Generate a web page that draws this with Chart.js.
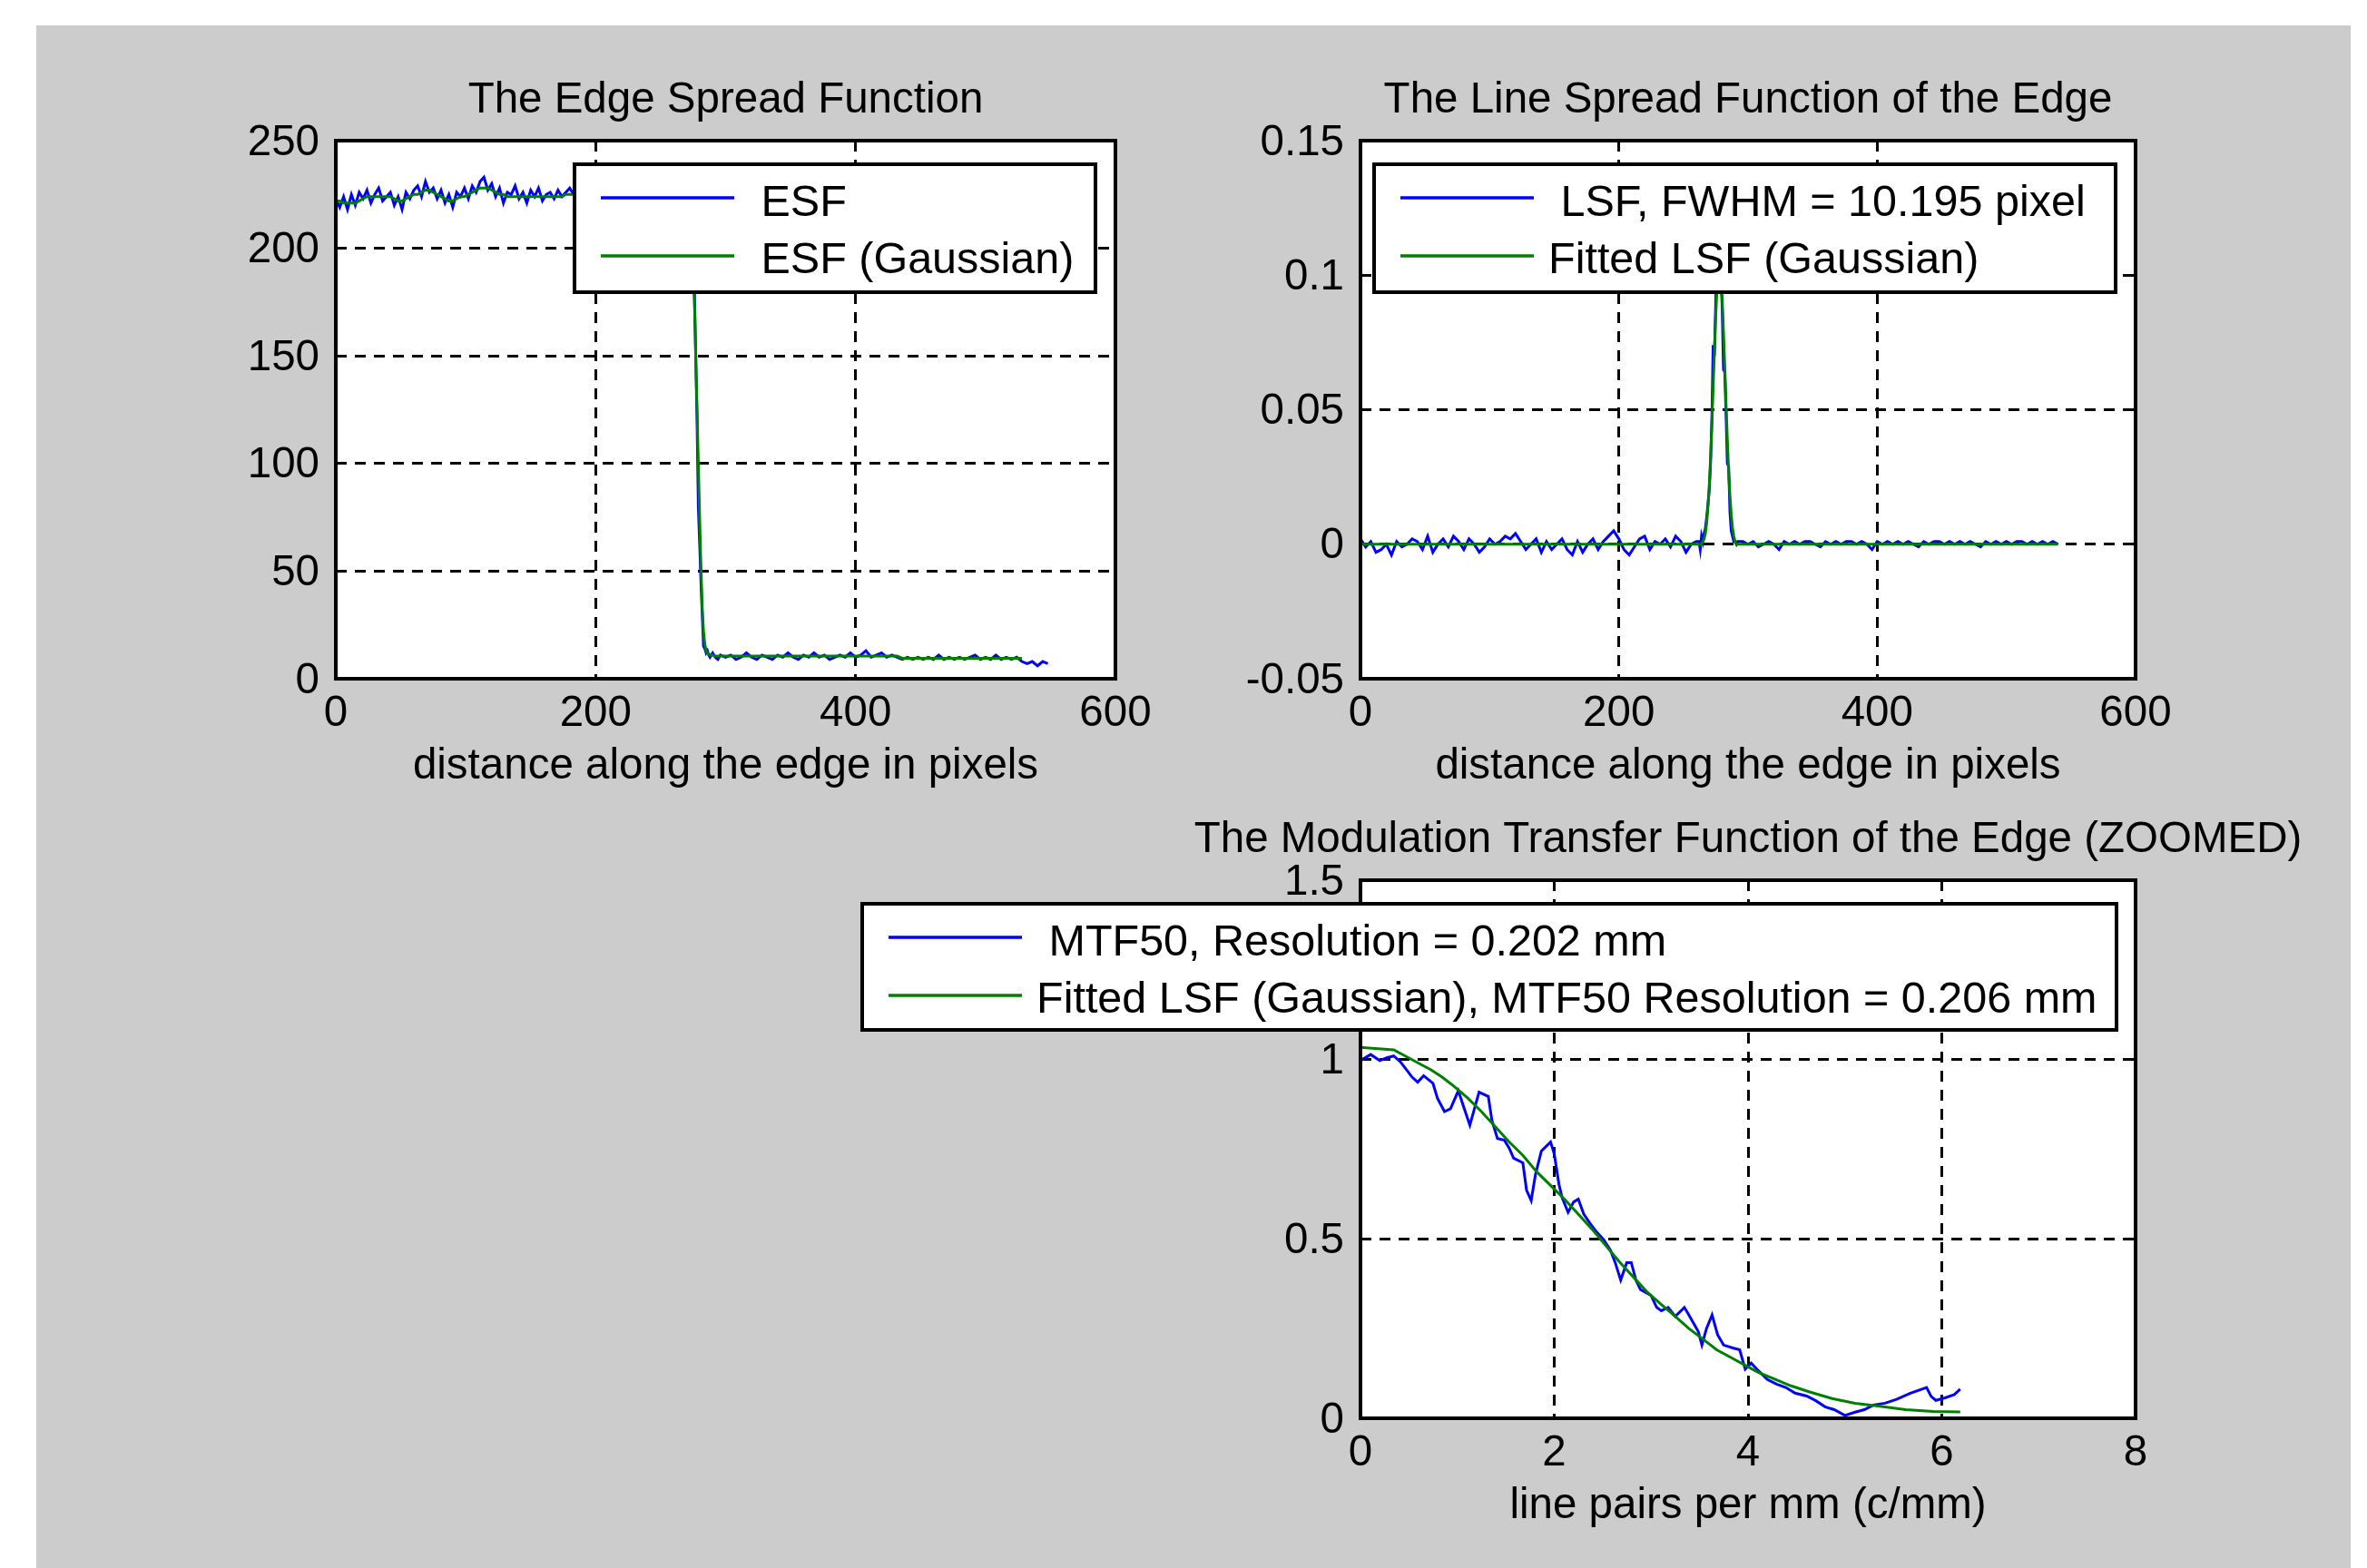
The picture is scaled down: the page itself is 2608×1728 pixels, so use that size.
<!DOCTYPE html>
<html><head><meta charset="utf-8">
<script src="https://cdn.jsdelivr.net/npm/chart.js@4.4.1/dist/chart.umd.min.js"></script>
<style>
html,body{margin:0;padding:0;background:#fff;}
body{width:2608px;height:1728px;position:relative;overflow:hidden;}
#fig{position:absolute;left:40px;top:28px;width:2550px;height:1700px;background:#cccccc;}
canvas{position:absolute;}
</style></head><body>
<div id="fig"></div>
<canvas id="c1" width="1100" height="860" style="left:220px;top:40px"></canvas>
<canvas id="c2" width="1200" height="860" style="left:1340px;top:40px"></canvas>
<canvas id="c3" width="1660" height="848" style="left:900px;top:880px"></canvas>
<script>
// ---------------- DATA ----------------
// Edge Spread Function (pixels)
const esfX = [
0,3,6,9,12,15,18,21,24,27,30,33,36,39,42,45,48,51,54,57,
60,63,66,69,72,75,78,81,84,87,90,93,96,99,102,105,108,111,114,117,
120,123,126,129,132,135,138,141,144,147,150,153,156,159,162,165,168,171,174,177,
180,183,
190,200,210,220,230,240,250,260,268,
272,273,274,275,276,277,278,279,280,281,282,283,284,285,286,287,288,290,292,294,296,
300,304,308,312,316,320,324,328,332,336,340,344,348,352,356,360,364,368,372,376,
380,384,388,392,396,400,404,408,412,416,420,424,428,432,436,440,444,448,452,456,
460,464,468,472,476,480,484,488,492,496,500,504,508,512,516,520,524,528,532,536,
540,544,548];
const esfMeasured = [
223,219,224,218,225,220,226,223,227,221,225,228,222,224,226,220,224,218,226,223,
227,229,224,231,226,228,223,227,221,225,219,226,224,228,223,229,226,231,233,227,
230,224,228,221,226,225,229,223,226,221,227,224,228,222,225,226,223,227,224,226,
228,225,
226,223,227,224,225,223,226,224,225,
225,223,212,190,180,150,120,80,63,45,30,15,14,12,13,11,10,12,10,9,11,
10,11,9,10,12,10,9,11,10,9,11,10,12,10,9,11,10,12,10,11,
9,10,11,10,12,10,11,13,10,11,12,10,11,10,9,10,9,10,9,10,
9,11,9,10,9,10,9,10,11,9,10,9,11,9,10,9,10,8,7,8,
6,8,7];
const esfGaussian = [
222,222,221,221,221,221,222,223,224,224,224,224,224,224,224,223,222,222,223,224,
225,225,226,227,227,226,225,224,223,222,222,223,224,224,225,226,227,228,228,228,
227,226,225,225,224,224,224,224,224,224,224,224,224,224,224,224,224,224,224,225,
225,225,
225,225,225,224,224,224,224,224,224,
224,222,215,195,175,150,125,100,75,52,33,22,16,13,12,11.5,11,11,10.5,10.5,10.5,
10.5,10.5,10.5,10.5,10.5,10.5,10.5,10.5,10.5,10.5,10.5,10.5,10.5,10.5,10.5,10.5,10.5,10.5,10.5,10.5,
10.5,10.5,10.5,10.5,10.5,10.5,10.5,10.5,10.5,10.5,10.5,10.5,10.5,10.5,9.5,9.5,9.5,9.5,9.5,9.5,
9.5,9.5,9.5,9.5,9.5,9.5,9.5,9.5,9.5,9.5,9.5,9.5,9.5,9.5,9.5,9.5,9.5,9.5,null,null,
null,null,null];

// Line Spread Function
const lsfX = [
0,4,8,12,16,20,24,28,32,36,40,44,48,52,56,60,64,68,72,76,
80,84,88,92,96,100,104,108,112,116,120,124,128,132,136,140,144,148,152,156,
160,164,168,172,176,180,184,188,192,196,200,204,208,212,216,220,224,228,232,236,
240,244,248,252,256,260,
262,263,264,265,266,267,268,269,270,271,272,273,274,275,276,277,278,279,280,281,
282,283,284,285,286,287,288,289,290,291,292,
296,300,304,308,312,316,320,324,328,332,336,340,344,348,352,356,360,364,368,372,
376,380,384,388,392,396,400,404,408,412,416,420,424,428,432,436,440,444,448,452,
456,460,464,468,472,476,480,484,488,492,496,500,504,508,512,516,520,524,528,532,
536,540];
const lsfMeasured = [
0.002,-0.001,0.001,-0.003,-0.002,0.000,-0.004,0.001,-0.001,0.000,
0.002,0.001,-0.002,0.003,-0.003,0.000,0.002,-0.001,0.003,0.001,
-0.002,0.002,0.000,-0.003,-0.001,0.002,0.000,0.001,0.003,0.002,
0.004,0.001,-0.002,0.000,0.002,-0.003,0.001,-0.002,0.000,0.002,
-0.002,-0.004,0.001,-0.003,0.000,0.002,-0.002,0.001,0.003,0.005,
0.002,-0.002,-0.004,-0.001,0.002,0.003,-0.002,0.001,0.000,0.002,
-0.001,0.003,0.001,-0.003,0.000,0.001,
0.001,-0.002,0.003,0.001,0.004,0.006,0.010,0.015,0.020,0.030,
0.046,0.074,0.070,0.090,0.110,0.120,0.115,0.100,0.088,0.065,
0.064,0.048,0.030,0.029,0.012,0.005,0.003,0.001,0.001,0.000,0.001,
0.001,0.000,0.001,-0.001,0.000,0.001,0.000,-0.002,0.001,0.000,
0.001,0.000,0.001,0.001,0.000,-0.001,0.001,0.000,0.001,0.000,
0.001,0.001,0.000,0.001,0.000,-0.002,0.001,0.000,0.001,0.000,
0.001,0.000,0.001,0.000,-0.001,0.001,0.000,0.001,0.001,0.000,
0.001,0.000,0.001,0.000,0.001,0.000,-0.001,0.001,0.000,0.001,
0.000,0.001,0.000,0.001,0.001,0.000,0.001,0.000,0.001,0.000,
0.001,0.000];
const lsfFitX = [0,130,262,263,264,265,266,267,268,269,270,271,272,273,274,275,276,277,278,279,
280,281,282,283,284,285,286,287,288,289,290,291,292,420,540];
const lsfFitted = [0,0,0,0,0,0.001,0.002,0.004,0.008,0.014,0.022,0.032,0.045,0.058,0.072,0.085,0.095,0.101,0.102,0.099,
0.091,0.079,0.066,0.052,0.039,0.027,0.018,0.011,0.006,0.003,0.001,0,0,0,0];

// Modulation Transfer Function (line pairs per mm)
const mtfX = [0,0.105,0.2,0.271,0.343,0.414,0.462,0.533,0.59,0.652,
0.748,0.795,0.867,0.929,1.01,1.071,1.129,1.176,1.224,1.319,
1.357,1.414,1.486,1.533,1.581,1.676,1.714,1.762,1.805,1.867,
1.962,2.0,2.048,2.081,2.143,2.2,2.248,2.305,2.367,2.438,
2.51,2.581,2.629,2.686,2.748,2.795,2.843,2.89,3.0,3.057,
3.105,3.176,3.248,3.343,3.39,3.486,3.524,3.571,3.629,3.686,
3.748,3.843,3.914,3.971,4.033,4.105,4.2,4.295,4.39,4.486,
4.605,4.7,4.795,4.89,5.0,5.105,5.2,5.295,5.414,5.533,
5.676,5.843,5.89,5.938,6.033,6.129,6.19];
const mtfMeasured = [0.997,1.014,0.997,1.005,1.01,0.993,0.976,0.951,0.937,0.955,
0.934,0.892,0.855,0.863,0.913,0.863,0.817,0.863,0.909,0.897,
0.83,0.78,0.775,0.754,0.725,0.712,0.636,0.607,0.678,0.745,
0.77,0.737,0.653,0.615,0.574,0.603,0.611,0.569,0.544,0.519,
0.498,0.468,0.434,0.385,0.434,0.434,0.385,0.359,0.342,0.309,
0.3,0.309,0.284,0.309,0.288,0.242,0.204,0.25,0.288,0.233,
0.204,0.196,0.191,0.137,0.154,0.133,0.108,0.095,0.086,0.07,
0.062,0.049,0.032,0.024,0.008,0.017,0.024,0.037,0.042,0.053,
0.07,0.086,0.061,0.05,0.057,0.066,0.081];
const mtfFitX = [0,0.152,0.343,0.462,0.605,0.724,0.843,0.962,1.105,1.248,
1.39,1.533,1.676,1.819,1.962,2.105,2.248,2.39,2.533,2.676,
2.819,2.962,3.105,3.248,3.39,3.533,3.676,3.819,3.962,4.105,
4.248,4.438,4.629,4.867,5.105,5.343,5.629,5.914,6.19];
const mtfFitted = [1.034,1.031,1.027,1.01,0.989,0.972,0.951,0.926,0.893,0.855,
0.813,0.771,0.733,0.687,0.649,0.611,0.569,0.527,0.481,0.435,
0.393,0.351,0.317,0.284,0.25,0.221,0.191,0.17,0.149,0.128,
0.112,0.091,0.074,0.055,0.042,0.034,0.024,0.019,0.018];

// Axis ticks and labels
const esfXTicks = [0,200,400,600];
const esfXTickLabels = ['0','200','400','600'];
const esfYTicks = [0,50,100,150,200,250];
const esfYTickLabels = ['0','50','100','150','200','250'];
const lsfXTicks = [0,200,400,600];
const lsfXTickLabels = ['0','200','400','600'];
const lsfYTicks = [-0.05,0,0.05,0.1,0.15];
const lsfYTickLabels = ['-0.05','0','0.05','0.1','0.15'];
const mtfXTicks = [0,2,4,6,8];
const mtfXTickLabels = ['0','2','4','6','8'];
const mtfYTicks = [0,0.5,1,1.5];
const mtfYTickLabels = ['0','0.5','1','1.5'];

// Texts
const titles = ['The Edge Spread Function','The Line Spread Function of the Edge','The Modulation Transfer Function of the Edge (ZOOMED)'];
const xTitles = ['distance along the edge in pixels','distance along the edge in pixels','line pairs per mm (c/mm)'];
const esfLabels = [' ESF',' ESF (Gaussian)'];
const lsfLabels = [' LSF, FWHM = 10.195 pixel','Fitted LSF (Gaussian)'];
const mtfLabels = [' MTF50, Resolution = 0.202 mm','Fitted LSF (Gaussian), MTF50 Resolution = 0.206 mm'];

// ---------------- RENDERING ----------------
const FONT = "'Liberation Sans', Arial, sans-serif";
const FS = 47.5;
const LFS = 48.5;
const BLUE = '#0000ff', GREEN = '#008000';

function pts(xs, ys){ return xs.map((x,i)=>({x:x, y:ys[i]})); }

const areaPlugin = {
  id: 'areaBox',
  beforeDraw(chart){
    const {ctx, chartArea:a} = chart;
    ctx.save(); ctx.fillStyle = '#fff';
    ctx.fillRect(a.left, a.top, a.right-a.left, a.bottom-a.top);
    ctx.restore();
  },
  afterDatasetsDraw(chart){
    const {ctx, chartArea:a} = chart;
    ctx.save();
    ctx.strokeStyle = '#000'; ctx.lineWidth = 4;
    ctx.strokeRect(a.left, a.top, a.right-a.left, a.bottom-a.top);
    ctx.restore();
  }
};
const axesTitlePlugin = {
  id: 'axesTitle',
  afterDraw(chart, args, o){
    const {ctx, chartArea:a} = chart;
    ctx.save();
    ctx.fillStyle = '#000'; ctx.font = FS + 'px ' + FONT;
    ctx.textAlign = 'center'; ctx.textBaseline = 'alphabetic';
    ctx.fillText(o.text, (a.left + a.right)/2, a.top - o.gap);
    ctx.restore();
  }
};
const legendPlugin = {
  id: 'boxLegend',
  afterDraw(chart, args, o){
    const {ctx, chartArea:a} = chart;
    const x = a.left + o.dx, y = a.top + o.dy;
    ctx.save();
    ctx.fillStyle = '#fff'; ctx.fillRect(x, y, o.w, o.h);
    ctx.strokeStyle = '#000'; ctx.lineWidth = 4; ctx.strokeRect(x, y, o.w, o.h);
    chart.data.datasets.forEach((ds,i)=>{
      const ly = y + 37 + i*64;
      ctx.beginPath(); ctx.strokeStyle = ds.borderColor; ctx.lineWidth = 3.5;
      ctx.moveTo(x+29, ly); ctx.lineTo(x+176, ly); ctx.stroke();
      ctx.fillStyle = '#000'; ctx.font = LFS + 'px ' + FONT; ctx.textBaseline = 'alphabetic'; ctx.textAlign = 'left';
      ctx.fillText(ds.label, x+176+16, y + 57 + i*63);
    });
    ctx.restore();
  }
};

function axis(cfg){
  const base = {
    type: 'linear', min: cfg.min, max: cfg.max,
    afterBuildTicks: s => { s.ticks = cfg.ticks.map(v => ({value: v})); },
    ticks: { callback: (v, i) => cfg.labels[i], color: '#000', font: {family: FONT, size: FS}, padding: cfg.pad, labelOffset: cfg.labelOffset || 0, autoSkip: false, maxRotation: 0, minRotation: 0 },
    grid: { color: '#000', lineWidth: 3, drawTicks: false },
    border: { display: false, dash: [12, 9] }
  };
  base.afterFit = s => { if (cfg.horizontal) s.height = cfg.size; else s.width = cfg.size; };
  if (cfg.title) base.title = { display: true, text: cfg.title, color: '#000', font: {family: FONT, size: FS, lineHeight: 1.2}, padding: {top: 0, bottom: cfg.titlePad} };
  return base;
}

function makeChart(id, o){
  return new Chart(document.getElementById(id), {
    type: 'line',
    data: { datasets: [
      { label: o.labels[0], data: pts(o.x1, o.y1), borderColor: BLUE, borderWidth: 3, pointRadius: 0, tension: 0, spanGaps: false, order: 1 },
      { label: o.labels[1], data: pts(o.x2, o.y2), borderColor: GREEN, borderWidth: 3, pointRadius: 0, tension: 0, spanGaps: false, order: 0 }
    ]},
    options: {
      responsive: false, animation: false, devicePixelRatio: 1,
      events: [],
      layout: { padding: { left: 0, top: o.top, bottom: 0, right: o.padRight } },
      plugins: {
        legend: { display: false }, tooltip: { enabled: false }, title: { display: false },
        axesTitle: { text: o.title, gap: 31 },
        boxLegend: o.legend
      },
      scales: {
        x: axis({horizontal: true, min: o.xmin, max: o.xmax, ticks: o.xTicks, labels: o.xLabels, pad: 10.5, size: o.xAxisH, title: o.xTitle, titlePad: o.xTitlePad}),
        y: axis({horizontal: false, min: o.ymin, max: o.ymax, ticks: o.yTicks, labels: o.yLabels, pad: 18, labelOffset: 2.5, size: o.yAxisW})
      }
    },
    plugins: [areaPlugin, axesTitlePlugin, legendPlugin]
  });
}

makeChart('c1', {
  x1: esfX, y1: esfMeasured, x2: esfX, y2: esfGaussian, labels: esfLabels,
  title: titles[0], top: 115, padRight: 91,
  xmin: 0, xmax: 600, xTicks: esfXTicks, xLabels: esfXTickLabels, xAxisH: 152, xTitle: xTitles[0], xTitlePad: 27,
  ymin: 0, ymax: 250, yTicks: esfYTicks, yLabels: esfYTickLabels, yAxisW: 150,
  legend: {dx: 263, dy: 26, w: 574, h: 141}
});
makeChart('c2', {
  x1: lsfX, y1: lsfMeasured, x2: lsfFitX, y2: lsfFitted, labels: lsfLabels,
  title: titles[1], top: 115, padRight: 187,
  xmin: 0, xmax: 600, xTicks: lsfXTicks, xLabels: lsfXTickLabels, xAxisH: 152, xTitle: xTitles[1], xTitlePad: 27,
  ymin: -0.05, ymax: 0.15, yTicks: lsfYTicks, yLabels: lsfYTickLabels, yAxisW: 159,
  legend: {dx: 15, dy: 26, w: 817, h: 141}
});
makeChart('c3', {
  x1: mtfX, y1: mtfMeasured, x2: mtfFitX, y2: mtfFitted, labels: mtfLabels,
  title: titles[2], top: 90, padRight: 207,
  xmin: 0, xmax: 8, xTicks: mtfXTicks, xLabels: mtfXTickLabels, xAxisH: 165, xTitle: xTitles[2], xTitlePad: 40,
  ymin: 0, ymax: 1.5, yTicks: mtfYTicks, yLabels: mtfYTickLabels, yAxisW: 599,
  legend: {dx: -549, dy: 26, w: 1382, h: 139}
});
</script>
</body></html>
